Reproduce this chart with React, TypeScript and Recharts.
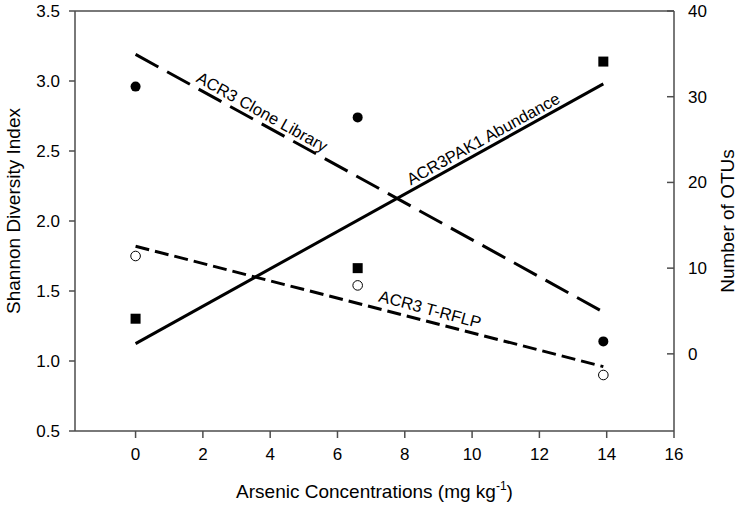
import { ComposedChart, Line, ReferenceLine, Scatter, XAxis, YAxis } from "recharts";

// arsenic concentration of the three sites (mg/kg)
const arsenic = [0, 6.6, 13.9];
const cloneShannon = [2.96, 2.74, 1.14];
const trflpShannon = [1.75, 1.54, 0.9];
const pak1Otus = [4.1, 10.0, 34.1];

// fitted lines, end points
const fitX = [0, 13.9];
const cloneFit = [3.19, 1.35];
const trflpFit = [1.82, 0.96];
const pak1Fit = [1.2, 31.5];

const xTicks = [0, 2, 4, 6, 8, 10, 12, 14, 16];
const shannonTicks = [0.5, 1.0, 1.5, 2.0, 2.5, 3.0, 3.5];
const otuTicks = [0, 10, 20, 30, 40];

const cloneLabel = [{ x: 3.76, y: 2.78 }];
const pak1Label = [{ x: 10.33, y: 25.1 }];
const trflpLabel = [{ x: 8.75, y: 1.37 }];

const toPoints = (xs: number[], ys: number[]) => xs.map((x, i) => ({ x, y: ys[i] }));

const FONT = "'Liberation Sans', Arial, sans-serif";
const AXIS = "#4d4d4d";

const FilledCircle = (p: any) => <circle cx={p.cx} cy={p.cy} r={5} fill="#000" />;
const OpenCircle = (p: any) => <circle cx={p.cx} cy={p.cy} r={4.8} fill="#fff" stroke="#000" strokeWidth={1} />;
const Square = (p: any) => <rect x={p.cx - 5} y={p.cy - 5} width={10} height={10} fill="#000" />;

const lineText = (text: string, angle: number) => (p: any) => (
  <text
    x={p.cx}
    y={p.cy}
    dy="0.35em"
    textAnchor="middle"
    transform={`rotate(${angle} ${p.cx} ${p.cy})`}
    fontFamily={FONT}
    fontSize={16.5}
    fill="#000"
  >
    {text}
  </text>
);

const RightTick = (p: any) => (
  <g>
    <line x1={p.x - 14} x2={p.x - 21} y1={p.y} y2={p.y} stroke={AXIS} strokeWidth={1.5} />
    <text x={p.x} y={p.y} dy="0.35em" textAnchor="start" fontFamily={FONT} fontSize={17} fill="#000">
      {p.payload.value}
    </text>
  </g>
);

export default function App() {
  return (
    <div style={{ position: "absolute", left: 0, top: 0, background: "#fff" }}>
      <ComposedChart width={739} height={508} margin={{ top: 11, right: 0, bottom: 0, left: 0 }}>
        <XAxis
          dataKey="x"
          type="number"
          domain={[-1.8, 16]}
          ticks={xTicks}
          allowDataOverflow
          height={77}
          stroke={AXIS}
          strokeWidth={1.5}
          tickSize={7}
          tickMargin={10}
          tick={{ fill: "#000", fontSize: 17, fontFamily: FONT }}
          label={(props: any) => {
            const vb = props.viewBox;
            return (
              <text x={vb.x + vb.width / 2} y={498} textAnchor="middle" fontFamily={FONT} fontSize={19} fill="#000">
                <tspan>Arsenic Concentrations (mg kg</tspan>
                <tspan dy={-8} fontSize={12}>-1</tspan>
                <tspan dy={8}>)</tspan>
              </text>
            );
          }}
        />
        <YAxis
          yAxisId="left"
          type="number"
          domain={[0.5, 3.5]}
          ticks={shannonTicks}
          allowDataOverflow
          width={75}
          stroke={AXIS}
          strokeWidth={1.5}
          tickSize={6}
          tickMargin={9}
          tickFormatter={(v: number) => v.toFixed(1)}
          tick={{ fill: "#000", fontSize: 17, fontFamily: FONT }}
          label={(props: any) => {
            const vb = props.viewBox;
            const cx = vb.x + 13;
            const cy = vb.y + vb.height / 2 - 10;
            return (
              <text x={cx} y={cy} dy="0.35em" textAnchor="middle" transform={`rotate(-90 ${cx} ${cy})`} fontFamily={FONT} fontSize={19} fill="#000">
                Shannon Diversity Index
              </text>
            );
          }}
        />
        <YAxis
          yAxisId="right"
          orientation="right"
          type="number"
          domain={[-9, 40]}
          ticks={otuTicks}
          allowDataOverflow
          width={65}
          stroke={AXIS}
          strokeWidth={1.5}
          tickLine={false}
          tickSize={0}
          tickMargin={14}
          tick={<RightTick />}
          label={(props: any) => {
            const vb = props.viewBox;
            const cx = vb.x + 53;
            const cy = vb.y + vb.height / 2;
            return (
              <text x={cx} y={cy} dy="0.35em" textAnchor="middle" transform={`rotate(-90 ${cx} ${cy})`} fontFamily={FONT} fontSize={19} fill="#000">
                Number of OTUs
              </text>
            );
          }}
        />
        <ReferenceLine yAxisId="left" y={3.5} stroke={AXIS} strokeWidth={1.5} />

        <Line
          yAxisId="left"
          data={toPoints(fitX, cloneFit)}
          dataKey="y"
          type="linear"
          stroke="#000"
          strokeWidth={3}
          strokeDasharray="26 10"
          dot={false}
          activeDot={false}
          isAnimationActive={false}
        />
        <Line
          yAxisId="left"
          data={toPoints(fitX, trflpFit)}
          dataKey="y"
          type="linear"
          stroke="#000"
          strokeWidth={3}
          strokeDasharray="14 6"
          dot={false}
          activeDot={false}
          isAnimationActive={false}
        />
        <Line
          yAxisId="right"
          data={toPoints(fitX, pak1Fit)}
          dataKey="y"
          type="linear"
          stroke="#000"
          strokeWidth={3}
          dot={false}
          activeDot={false}
          isAnimationActive={false}
        />

        <Scatter yAxisId="left" data={toPoints(arsenic, cloneShannon)} dataKey="y" shape={FilledCircle} isAnimationActive={false} />
        <Scatter yAxisId="left" data={toPoints(arsenic, trflpShannon)} dataKey="y" shape={OpenCircle} isAnimationActive={false} />
        <Scatter yAxisId="right" data={toPoints(arsenic, pak1Otus)} dataKey="y" shape={Square} isAnimationActive={false} />

        <Scatter yAxisId="left" data={cloneLabel} dataKey="y" shape={lineText("ACR3 Clone Library", 29)} isAnimationActive={false} />
        <Scatter yAxisId="right" data={pak1Label} dataKey="y" shape={lineText("ACR3PAK1 Abundance", -29)} isAnimationActive={false} />
        <Scatter yAxisId="left" data={trflpLabel} dataKey="y" shape={lineText("ACR3 T-RFLP", 15)} isAnimationActive={false} />
      </ComposedChart>
    </div>
  );
}
